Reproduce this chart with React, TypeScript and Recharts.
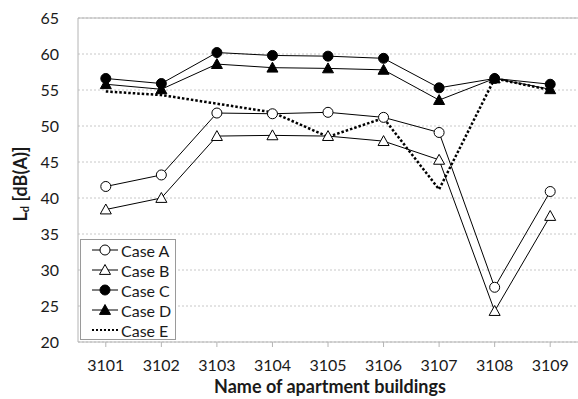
import React from "react";
import {
  LineChart,
  Line,
  XAxis,
  YAxis,
  CartesianGrid,
  ReferenceLine,
} from "recharts";

const buildings = ["3101", "3102", "3103", "3104", "3105", "3106", "3107", "3108", "3109"];
const caseA = [41.6, 43.2, 51.8, 51.7, 51.9, 51.2, 49.1, 27.6, 40.9];
const caseB = [38.4, 40.0, 48.6, 48.7, 48.6, 47.9, 45.3, 24.3, 37.5];
const caseC = [56.6, 55.9, 60.2, 59.8, 59.7, 59.4, 55.3, 56.6, 55.8];
const caseD = [55.8, 55.1, 58.6, 58.1, 58.0, 57.8, 53.6, 56.6, 55.1];
const caseE = [54.8, 54.3, 53.1, 51.9, 48.5, 51.1, 41.2, 56.6, 55.0];
const yTicks = [20, 25, 30, 35, 40, 45, 50, 55, 60, 65];

const data = buildings.map((name, i) => ({
  name,
  A: caseA[i],
  B: caseB[i],
  C: caseC[i],
  D: caseD[i],
  E: caseE[i],
}));

const FONT = "Lato, 'Open Sans', sans-serif";
const INK = "#1a1a1a";

const SERIES = [
  { key: "A", label: "Case A", marker: "circle", fill: "#fff" },
  { key: "B", label: "Case B", marker: "triangle", fill: "#fff" },
  { key: "C", label: "Case C", marker: "circle", fill: "#000" },
  { key: "D", label: "Case D", marker: "triangle", fill: "#000" },
];

function Marker({ cx, cy, kind, fill }: any) {
  if (cx == null || cy == null) return null;
  if (kind === "circle") {
    return <circle cx={cx} cy={cy} r={5} fill={fill} stroke="#000" strokeWidth={1} />;
  }
  const s = 5.5;
  const pts = `${cx},${cy - s} ${cx + s},${cy + s * 0.8} ${cx - s},${cy + s * 0.8}`;
  return <polygon points={pts} fill={fill} stroke="#000" strokeWidth={1} />;
}

// legend is drawn as an overlay so it doesn't eat into the plot height
function LegendBox() {
  const rows = [...SERIES, { key: "E", label: "Case E", marker: "none", fill: "" }];
  return (
    <div
      style={{
        position: "absolute",
        left: 80,
        top: 239,
        border: "1px solid #9a9a9a",
        background: "#fff",
        width: 96,
        height: 101,
        boxSizing: "border-box",
        padding: "0 0 0 10px",
        fontFamily: FONT,
        fontSize: 16,
        color: INK,
      }}
    >
      {rows.map((r) => (
        <div key={r.key} style={{ display: "flex", alignItems: "center", height: 20 }}>
          <svg width={28} height={14} style={{ marginRight: 2 }}>
            {r.marker === "none" ? (
              <line x1={1} y1={7} x2={27} y2={7} stroke="#000" strokeWidth={2} strokeDasharray="2 2" />
            ) : (
              <>
                <line x1={1} y1={7} x2={27} y2={7} stroke="#000" strokeWidth={1} />
                <Marker cx={14} cy={7} kind={r.marker} fill={r.fill} />
              </>
            )}
          </svg>
          <span>{r.label}</span>
        </div>
      ))}
    </div>
  );
}

function YLabel({ viewBox }: any) {
  const cy = viewBox.y + viewBox.height / 2 + 4;
  return (
    <text
      x={22}
      y={cy}
      transform={`rotate(-90, 22, ${cy})`}
      textAnchor="middle"
      dominantBaseline="middle"
      fontFamily={FONT}
      fontWeight="bold"
      fontSize={18}
      fill={INK}
    >
      L<tspan fontSize={11} dy={4}>d</tspan>
      <tspan dy={-4}> [dB(A)]</tspan>
    </text>
  );
}

function XLabel({ viewBox }: any) {
  return (
    <text
      x={viewBox.x + viewBox.width / 2 + 2}
      y={393}
      textAnchor="middle"
      fontFamily={FONT}
      fontWeight="bold"
      fontSize={18}
      fill={INK}
    >
      Name of apartment buildings
    </text>
  );
}

export default function App() {
  return (
    <div style={{ position: "absolute", left: 0, top: 0, width: 578, height: 399, background: "#fff" }}>
      <LineChart
        width={578}
        height={399}
        data={data}
        margin={{ top: 18, right: 0, left: 0, bottom: 0 }}
      >
        <CartesianGrid vertical={false} stroke="#c8c8c8" strokeDasharray="2 2" />
        <ReferenceLine y={65} stroke="#b4b4b4" strokeWidth={1} />
        <XAxis
          dataKey="name"
          height={57}
          padding={{ left: 27.8, right: 27.8 }}
          axisLine={{ stroke: "#b4b4b4" }}
          tickLine={{ stroke: "#b4b4b4" }}
          tickSize={5}
          tickMargin={13}
          tick={{ fontSize: 16, fill: INK, fontFamily: FONT }}
          interval={0}
          label={<XLabel />}
        />
        <YAxis
          width={78}
          domain={[20, 65]}
          ticks={yTicks}
          axisLine={{ stroke: "#b4b4b4" }}
          tickLine={false}
          tickSize={6}
          tickMargin={13}
          tick={{ fontSize: 16, fill: INK, fontFamily: FONT }}
          label={<YLabel />}
        />
        {SERIES.map((s) => (
          <Line
            key={s.key}
            dataKey={s.key}
            stroke="#000"
            strokeWidth={1}
            isAnimationActive={false}
            dot={(p: any) => <Marker key={`${s.key}-${p.index}`} cx={p.cx} cy={p.cy} kind={s.marker} fill={s.fill} />}
            activeDot={false}
          />
        ))}
        <Line
          dataKey="E"
          stroke="#000"
          strokeWidth={2.5}
          strokeDasharray="2.5 2"
          dot={false}
          activeDot={false}
          isAnimationActive={false}
        />
      </LineChart>
      <LegendBox />
    </div>
  );
}
